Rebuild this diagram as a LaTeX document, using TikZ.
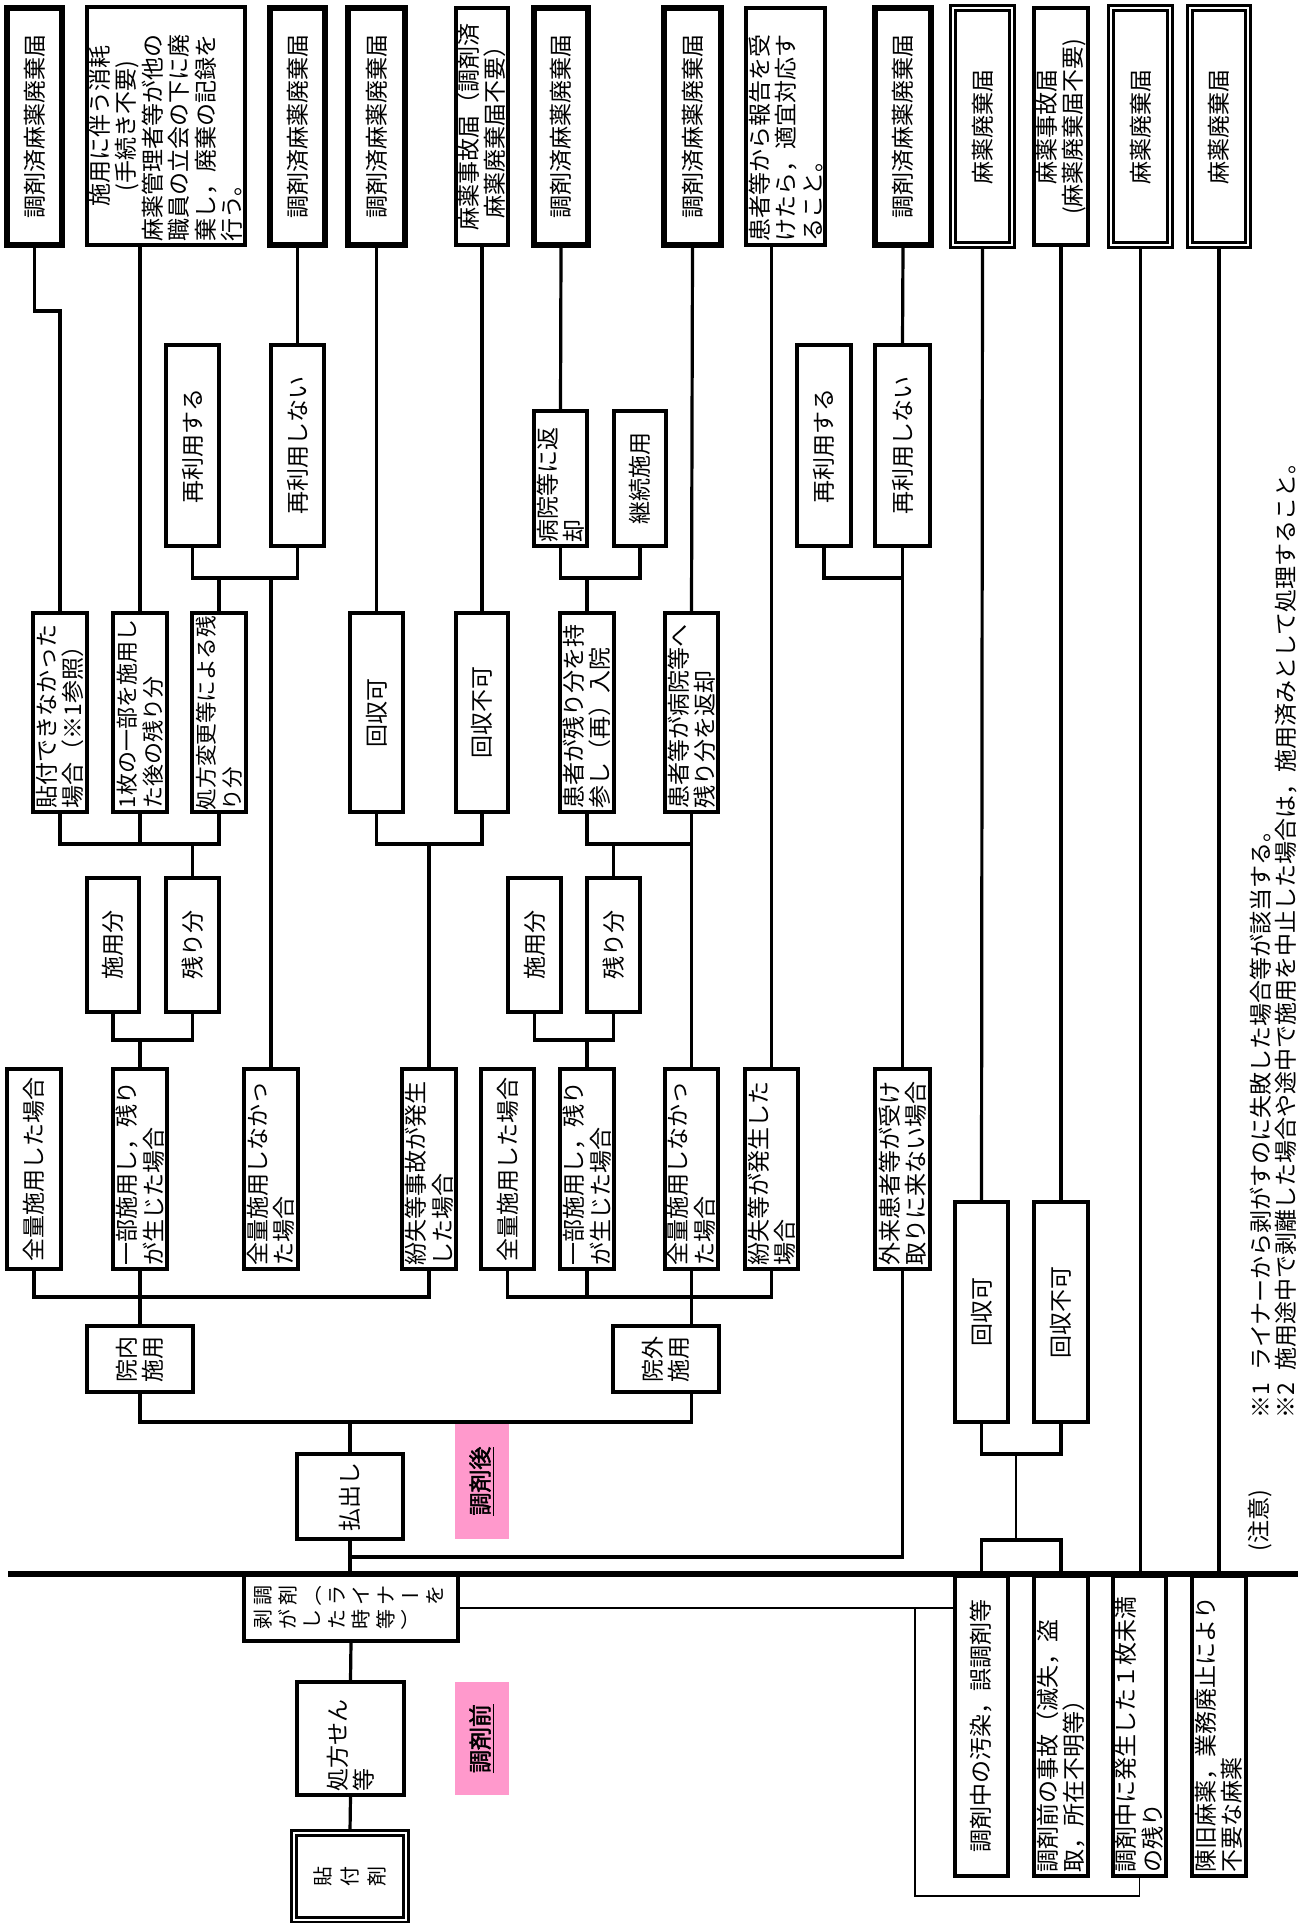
\documentclass[tikz,border=0pt]{standalone}
\usepackage{fontspec}
\usepackage{graphicx}
\setmainfont{Noto Sans CJK JP}[AutoFakeBold=2]
\definecolor{pinkc}{RGB}{255,153,204}
\newcommand\bxfont{\fontsize{11.5pt}{13.25pt}\selectfont}
\newcommand\pfonta{\fontsize{11pt}{13.25pt}\selectfont}
\newcommand\pfontb{\fontsize{10.8pt}{13.25pt}\selectfont}
\newcommand\smfont{\fontsize{10pt}{12pt}\selectfont}
\newcommand\rch[1]{\rotatebox{90}{\makebox[1em]{\rule[-0.12em]{0pt}{1em}#1}}}
\newcommand\nch[1]{\makebox[1em]{\raisebox{0.12em}{#1}}}
\newcommand\gp{\kern2.25pt}
\newcommand\gq{\kern3.5pt}
% [opts]{style}{name}{x1}{y1}{x2}{y2}{text}
\newcommand\mkbx[8][]{%
 \pgfmathsetmacro\bxL{(#7-#5)*0.5}%
 \pgfmathsetmacro\bxW{(#6-#4)*0.5}%
 \pgfmathsetmacro\bxT{(#7-#5-8)*0.5}%
 \pgfmathsetmacro\bxX{(#4+#6)/2}%
 \pgfmathsetmacro\bxY{(#5+#7)/2}%
 \node[#2,rotate=90,minimum width=\bxL pt,minimum height=\bxW pt,text width=\bxT pt,#1] (#3) at (\bxX,\bxY) {#8};}
\tikzset{
 bn/.style={draw,line width=1.6pt,inner sep=0pt,align=center,font=\bxfont},
 bt/.style={bn,line width=3pt},
 bd/.style={bn,line width=1.4pt,double,double distance=1.2pt},
 pk/.style={fill=pinkc,inner sep=0pt,align=center,font=\bxfont\bfseries},
 ln/.style={line width=1.6pt},
 thinln/.style={line width=0.7pt},
 mainln/.style={line width=2.8pt},
 note/.style={rotate=90,anchor=base west,inner sep=0pt,font=\bxfont}
}
\begin{document}
\begin{tikzpicture}[x=0.5pt,y=-0.5pt]
\useasboundingbox (0,0) rectangle (1301,1923);
% top row
\mkbx{bt}{T1}{7}{8}{62}{245}{調剤済麻薬廃棄届}
\mkbx[align=left]{bn}{T2}{87}{7}{245}{245}{\makebox[\bxT pt]{施用に伴う消耗}\\\makebox[\bxT pt]{(手続き不要)}\\麻薬管理者等が他の\\職員の立会の下に廃\\棄し，廃棄の記録を\\行う。}
\mkbx{bt}{T3}{270}{8}{325}{245}{調剤済麻薬廃棄届}
\mkbx{bt}{T4}{348}{8}{405}{245}{調剤済麻薬廃棄届}
\mkbx{bn}{T5}{456}{8}{508}{245}{麻薬事故届（調剤済\\麻薬廃棄届不要）}
\mkbx{bt}{T6}{534}{8}{588}{245}{調剤済麻薬廃棄届}
\mkbx{bt}{T7}{664}{8}{721}{245}{調剤済麻薬廃棄届}
\mkbx[align=left]{bn}{T8}{746}{8}{825}{245}{患者等から報告を受\\けたら，適宜対応す\\ること。}
\mkbx{bt}{T9}{875}{8}{931}{245}{調剤済麻薬廃棄届}
\mkbx{bd}{T10}{953}{8}{1012}{245}{麻薬廃棄届}
\mkbx{bn}{T11}{1034}{8}{1088}{245}{麻薬事故届\\(麻薬廃棄届不要)}
\mkbx{bd}{T12}{1111}{8}{1170}{245}{麻薬廃棄届}
\mkbx{bd}{T13}{1190}{8}{1248}{245}{麻薬廃棄届}
% row 2
\mkbx{bn}{R1}{166}{345}{219}{546}{再利用する}
\mkbx{bn}{R2}{271}{345}{324}{546}{再利用しない}
\mkbx[align=left]{bn}{R3}{534}{411}{587}{546}{病院等に返\\却}
\mkbx{bn}{R4}{614}{411}{666}{546}{継続施用}
\mkbx{bn}{R5}{797}{345}{851}{546}{再利用する}
\mkbx{bn}{R6}{875}{345}{930}{546}{再利用しない}
% row 3
\mkbx[align=left]{bn}{P1}{33}{613}{87}{812}{貼付できなかった\\場合（※1参照）}
\mkbx[align=left,font=\pfonta]{bn}{P2}{113}{613}{167}{812}{1枚の一部を施用し\\た後の残り分}
\mkbx[align=left,font=\pfontb,text width=97.5pt]{bn}{P3}{192}{613}{246}{812}{処方変更等による残\\り分}
\mkbx{bn}{P4}{350}{613}{403}{812}{回収可}
\mkbx{bn}{P5}{456}{613}{508}{812}{回収不可}
\mkbx[align=left]{bn}{P6}{560}{613}{614}{812}{患者が残り分を持\\参し（再）入院}
\mkbx[align=left]{bn}{P7}{665}{613}{718}{812}{患者等が病院等へ\\残り分を返却}
% row 4
\mkbx{bn}{S1}{87}{878}{139}{1012}{施用分}
\mkbx{bn}{S2}{166}{878}{219}{1012}{残り分}
\mkbx{bn}{S3}{508}{878}{561}{1012}{施用分}
\mkbx{bn}{S4}{587}{878}{640}{1012}{残り分}
% row 5
\mkbx{bn}{U1}{7}{1069}{61}{1269}{全量施用した場合}
\mkbx[align=left]{bn}{U2}{113}{1069}{167}{1269}{一部施用し，残り\\が生じた場合}
\mkbx[align=left]{bn}{U3}{244}{1069}{298}{1269}{全量施用しなかっ\\た場合}
\mkbx[align=left]{bn}{U4}{402}{1069}{456}{1269}{紛失等事故が発生\\した場合}
\mkbx{bn}{U5}{481}{1069}{534}{1269}{全量施用した場合}
\mkbx[align=left]{bn}{U6}{560}{1069}{614}{1269}{一部施用し，残り\\が生じた場合}
\mkbx[align=left]{bn}{U7}{665}{1069}{718}{1269}{全量施用しなかっ\\た場合}
\mkbx[align=left]{bn}{U8}{745}{1069}{798}{1269}{紛失等が発生した\\場合}
\mkbx[align=left]{bn}{U9}{875}{1069}{930}{1269}{外来患者等が受け\\取りに来ない場合}
% lower
\mkbx{bn}{V1}{87}{1326}{193}{1392}{院内\\施用}
\mkbx{bn}{V2}{613}{1326}{719}{1392}{院外\\施用}
\mkbx{bn}{W}{297}{1454}{403}{1539}{払出し}
\mkbx{bn}{X1}{955}{1202}{1008}{1422}{回収可}
\mkbx{bn}{X2}{1034}{1202}{1088}{1422}{回収不可}
\mkbx{pk}{PK1}{455}{1423}{509}{1539}{\underline{調剤後}}
\mkbx{pk}{PK2}{455}{1682}{509}{1795}{\underline{調剤前}}
\mkbx[align=left]{bn}{E}{297}{1682}{404}{1795}{処方せん\\等}
\mkbx{bn}{D1}{955}{1576}{1008}{1876}{調剤中の汚染，誤調剤等}
\mkbx[align=left]{bn}{D2}{1034}{1576}{1088}{1876}{調剤前の事故（滅失，盗\\取，所在不明等）}
\mkbx[align=left]{bn}{D3}{1113}{1576}{1166}{1876}{調剤中に発生した１枚未満\\の残り}
\mkbx[align=left]{bn}{D4}{1192}{1576}{1246}{1876}{陳旧麻薬，業務廃止により\\不要な麻薬}
\node[draw,line width=1.6pt,minimum width=107pt,minimum height=33.5pt,inner sep=0pt,text width=98pt,align=left,font=\smfont] (C) at (351,1607.5)
 {\rch{調}\gp\rch{剤}\gp\nch{（}\gp\rch{ラ}\gp\rch{イ}\gp\rch{ナ}\gp\nch{ー}\gp\rch{を}\\\rch{剥}\gp\rch{が}\gp\rch{し}\gp\rch{た}\gp\rch{時}\gp\rch{等}\gp\nch{）}};
\node[draw,line width=1.5pt,double,double distance=1.1pt,minimum width=56pt,minimum height=43.5pt,inner sep=0pt,font=\smfont] (F) at (350,1876.5)
 {\rch{貼}\gq\rch{付}\gq\rch{剤}};
% notes
\node[note] (N0) at (1267,1552) {(注意)};
\node[note] (N1) at (1269,1419) {※1\hspace{6pt}ライナーから剥がすのに失敗した場合等が該当する。};
\node[note] (N2) at (1294,1419) {※2\hspace{6pt}施用途中で剥離した場合や途中で施用を中止した場合は，施用済みとして処理すること。};
% coordinates
\coordinate (J0) at (0,311);
\coordinate (J1) at (0,578);
\coordinate (J2) at (0,844);
\coordinate (J3) at (0,1040);
\coordinate (J4) at (0,1297);
\coordinate (J5) at (0,1422);
\coordinate (J6) at (0,1557);
\coordinate (ML) at (8,1574);
\coordinate (MR) at (1298,1574);
\coordinate (K1) at (1016,1454);
\coordinate (K2) at (1016,1540);
\coordinate (L1) at (0,1608);
\coordinate (L2) at (915,1608);
\coordinate (L3) at (0,1896);
% connectors
\draw[ln] (T1.west) |- (P1.east |- J0) -- (P1.east);
\draw[ln] (T2.west -| P2.east) -- (P2.east);
\draw[ln] (T3.west) -- (R2.east);
\draw[ln] (T4.west) -- (P4.east);
\draw[ln] (T5.west) -- (P5.east);
\draw[ln] (T6.west) -- (R3.east);
\draw[ln] (T7.west) -- (P7.east);
\draw[ln] (T8.west -| U8.east) -- (U8.east);
\draw[ln] (T9.west) -- (R6.east);
\draw[ln] (T10.west) -- (X1.east);
\draw[ln] (T11.west) -- (X2.east);
\draw[ln] (T12.west) -- (T12.west |- ML);
\draw[ln] (T13.west) -- (T13.west |- ML);
\draw[ln] (R1.west) |- (R2.west |- J1) -- (R2.west);
\draw[ln] (P3.east |- J1) -- (P3.east);
\draw[ln] (U3.east |- J1) -- (U3.east);
\draw[ln] (R3.west) |- (R4.west |- J1) -- (R4.west);
\draw[ln] (P6.east |- J1) -- (P6.east);
\draw[ln] (R5.west) |- (R6.west |- J1);
\draw[ln] (R6.west) -- (U9.east);
\draw[ln] (P1.west) |- (P3.west |- J2) -- (P3.west);
\draw[ln] (P2.west) -- (P2.west |- J2);
\draw[ln] (S2.east |- J2) -- (S2.east);
\draw[ln] (P4.west) |- (P5.west |- J2) -- (P5.west);
\draw[ln] (U4.east |- J2) -- (U4.east);
\draw[ln] (P6.west) |- (P7.west |- J2);
\draw[ln] (S4.east |- J2) -- (S4.east);
\draw[ln] (P7.west) -- (U7.east);
\draw[ln] (S1.west) |- (S2.west |- J3) -- (S2.west);
\draw[ln] (U2.east |- J3) -- (U2.east);
\draw[ln] (S3.west) |- (S4.west |- J3) -- (S4.west);
\draw[ln] (U6.east |- J3) -- (U6.east);
\draw[ln] (U1.west) |- (U4.west |- J4) -- (U4.west);
\draw[ln] (U2.west) -- (V1.east);
\draw[ln] (U5.west) |- (U8.west |- J4) -- (U8.west);
\draw[ln] (U6.west) -- (U6.west |- J4);
\draw[ln] (U7.west) -- (V2.east -| U7.west);
\draw[ln] (V1.west) |- (U7.west |- J5) -- (U7.west |- V2.west);
\draw[ln] (W.east) -- (W.east |- J5);
\draw[ln] (W.west) -- (W.west |- ML);
\draw[ln] (U9.west) |- (W.west |- J6);
\draw[ln] (X1.west) |- (X2.west |- K1) -- (X2.west);
\draw[thinln] (K1) -- (K2);
\draw[ln] (X1.west |- ML) |- (K2) -| (X2.west |- ML);
\draw[ln] (C.south) -- (E.east);
\draw[ln] (E.west) -- (F.north);
\draw[thinln] (C.east |- L1) -- (D1.north |- L1);
\draw[thinln] (L2) |- (D3.west |- L3) -- (D3.west);
\draw[mainln] (ML) -- (MR);
\end{tikzpicture}
\end{document}
